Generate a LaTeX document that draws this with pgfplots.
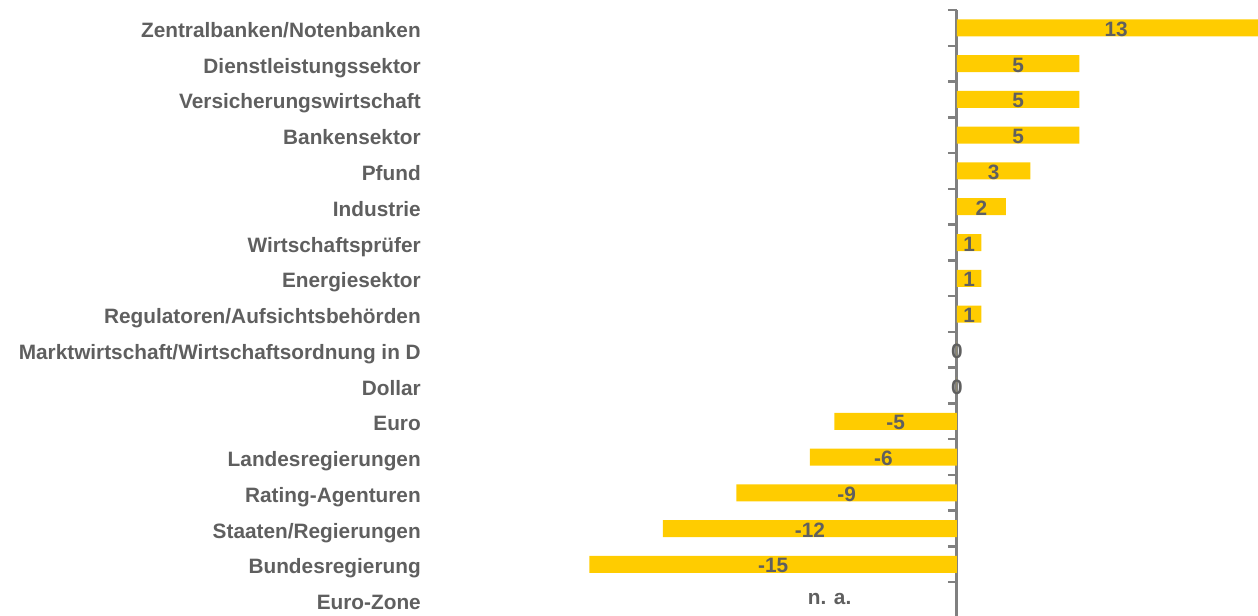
\documentclass[border=0pt]{standalone}
\usepackage{pgfplots}
\pgfplotsset{compat=1.18}
\usepackage{fontspec}
\setmainfont{Liberation Sans}
\definecolor{barc}{HTML}{FFCC00}
\definecolor{txt}{HTML}{5F5F5F}
\definecolor{axc}{HTML}{808080}

\begin{document}
\begin{tikzpicture}
\begin{axis}[
  x=24.5pt, y=35.75pt, y dir=reverse,
  xmin=-16, xmax=13.5, ymin=-0.5, ymax=16.5,
  axis x line=none, axis y line=center,
  axis line style={-, draw=axc, line width=3pt},
  every inner y axis line/.append style={-, draw=axc, line width=3pt},
  hide obscured y ticks=false,
  ytick={0,...,16},
  yticklabels={Zentralbanken/Notenbanken, Dienstleistungssektor, Versicherungswirtschaft,
    Bankensektor, Pfund, Industrie, Wirtschaftsprüfer, Energiesektor,
    Regulatoren/Aufsichtsbehörden, Marktwirtschaft/Wirtschaftsordnung in D, Dollar,
    Euro, Landesregierungen, Rating-Agenturen, Staaten/Regierungen, Bundesregierung, Euro-Zone},
  major tick length=0pt,
  tick style={draw=axc, line width=2.5pt},
  major tick style={draw=axc, line width=2.5pt},
  yticklabel style={anchor=base east, inner sep=0pt, xshift=-536pt, yshift=-9.5pt,
    font=\fontsize{20.8}{24}\selectfont\bfseries, text=txt},
  extra y ticks={-0.5,0.5,...,16.5},
  extra y tick labels={},
  extra y tick style={major tick length=9pt, tick align=outside,
    tick style={draw=axc, line width=2.5pt},
    major tick style={draw=axc, line width=2.5pt}},
  clip=false,
]
% bars
\addplot[xbar, bar width=17pt, fill=barc, draw=none] coordinates {
  (13,0) (5,1) (5,2) (5,3) (3,4) (2,5) (1,6) (1,7) (1,8) (0,9) (0,10)
  (-5,11) (-6,12) (-9,13) (-12,14) (-15,15)};
% value labels, centred in the bars
\addplot[draw=none, mark=none, nodes near coords, point meta=explicit symbolic,
  every node near coord/.style={anchor=base, yshift=-8.5pt,
    font=\fontsize{20.8}{24}\selectfont\bfseries, text=txt}] coordinates {
  (6.5,0)[13] (2.5,1)[5] (2.5,2)[5] (2.5,3)[5] (1.5,4)[3] (1,5)[2]
  (0.5,6)[1] (0.5,7)[1] (0.5,8)[1] (0,9)[0] (0,10)[0]
  (-2.5,11)[-5] (-3,12)[-6] (-4.5,13)[-9] (-6,14)[-12] (-7.5,15)[-15]};
\addplot[draw=none, mark=none, nodes near coords, point meta=explicit symbolic,
  every node near coord/.style={anchor=base, yshift=-4pt,
    font=\fontsize{20.8}{24}\selectfont\bfseries, text=txt}] coordinates {
  (-5.2,16)[n. a.]};
\coordinate (bbA) at (axis cs:-39.06,-0.783);
\coordinate (bbB) at (axis cs:12.286,16.42);
\end{axis}
\pgfresetboundingbox
\useasboundingbox (bbA) rectangle (bbB);
\end{tikzpicture}
\end{document}
